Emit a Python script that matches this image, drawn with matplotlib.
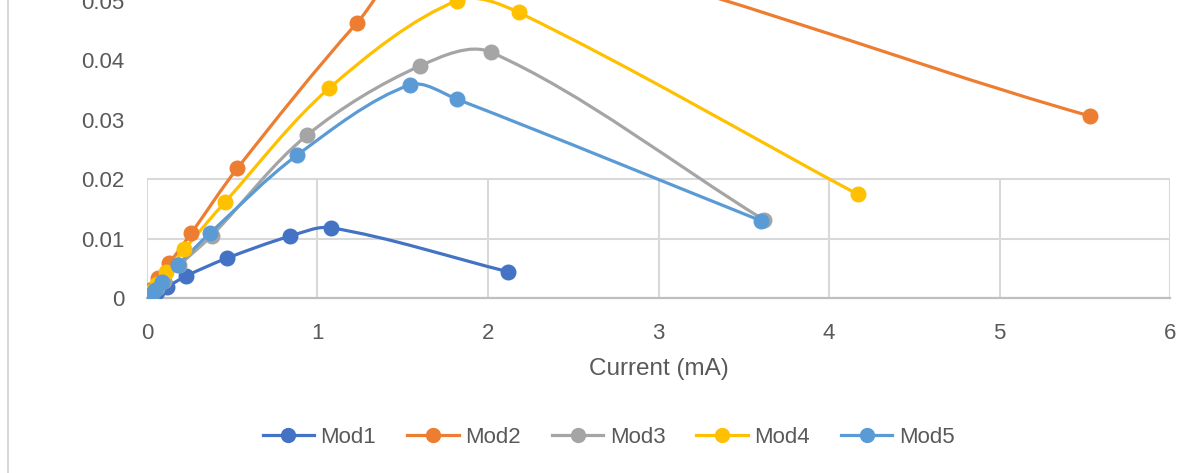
import matplotlib
matplotlib.use('Agg')
import numpy as np
import matplotlib.pyplot as plt
from matplotlib.path import Path
from matplotlib.patches import PathPatch
from matplotlib.lines import Line2D

plt.rcParams['font.family'] = ['Liberation Sans', 'DejaVu Sans']

# ── data ────────────────────────────────────────────────────────────────
series_names = ['Mod1', 'Mod2', 'Mod3', 'Mod4', 'Mod5']
colors = ['#4472C4', '#ED7D31', '#A5A5A5', '#FFC000', '#5B9BD5']

mod1_x = [0, 0.03, 0.06, 0.12, 0.23, 0.47, 0.84, 1.08, 2.12]
mod1_y = [0, 0.0005, 0.0010, 0.0019, 0.0037, 0.0067, 0.0104, 0.0118, 0.0044]

# the Mod2 peak lies above the visible area; estimated from the curve's path
mod2_x = [0, 0.03, 0.064, 0.13, 0.26, 0.53, 1.23, 1.75, 5.53]
mod2_y = [0, 0.0015, 0.0033, 0.0058, 0.0109, 0.0218, 0.0462, 0.0610, 0.0306]

mod3_x = [0, 0.03, 0.06, 0.10, 0.19, 0.38, 0.94, 1.60, 2.02, 3.62]
mod3_y = [0, 0.0008, 0.0017, 0.0028, 0.0055, 0.0105, 0.0274, 0.0390, 0.0413, 0.0131]

mod4_x = [0, 0.03, 0.06, 0.11, 0.22, 0.46, 1.07, 1.82, 2.18, 4.17]
mod4_y = [0, 0.0012, 0.0024, 0.0043, 0.0082, 0.0162, 0.0353, 0.0500, 0.0480, 0.0174]

mod5_x = [0, 0.03, 0.05, 0.09, 0.18, 0.37, 0.88, 1.54, 1.82, 3.60]
mod5_y = [0, 0.0006, 0.0013, 0.0027, 0.0055, 0.0109, 0.0240, 0.0358, 0.0334, 0.0130]

xs = [mod1_x, mod2_x, mod3_x, mod4_x, mod5_x]
ys = [mod1_y, mod2_y, mod3_y, mod4_y, mod5_y]

x_ticks = [0, 1, 2, 3, 4, 5, 6]
y_ticks = [0, 0.01, 0.02, 0.03, 0.04, 0.05]
y_ticklabels = ['0', '0.01', '0.02', '0.03', '0.04', '0.05']

TEXT = '#595959'
GRID = '#D9D9D9'
AXIS = '#BFBFBF'

Y_ASPECT = 35.0   # roughly px-per-unit ratio y/x, so smoothing works in screen-like space


def smooth_path(x, y):
    # chord-length Catmull-Rom as cubic Bezier segments (Excel-like smoothing)
    p = np.column_stack([x, np.asarray(y) * Y_ASPECT])
    n = len(p)
    d = np.hypot(*np.diff(p, axis=0).T)
    tang = np.zeros_like(p)
    tang[0] = (p[1] - p[0]) / d[0]
    tang[-1] = (p[-1] - p[-2]) / d[-1]
    for i in range(1, n - 1):
        tang[i] = (p[i + 1] - p[i - 1]) / (d[i - 1] + d[i])
    verts = [p[0]]
    codes = [Path.MOVETO]
    for i in range(n - 1):
        c1 = p[i] + tang[i] * d[i] / 3
        c2 = p[i + 1] - tang[i + 1] * d[i] / 3
        verts += [c1, c2, p[i + 1]]
        codes += [Path.CURVE4] * 3
    verts = np.array(verts)
    verts[:, 1] /= Y_ASPECT
    return Path(verts, codes)


fig = plt.figure(figsize=(11.91, 4.73), dpi=100, facecolor='white')
ax = fig.add_axes([0.1234, 0.370, 0.859, 0.630])

ax.set_xlim(0, 6)
ax.set_ylim(0, 0.0501)

# partial grid, as in the reference (only the lower band is boxed)
ax.hlines([0.01, 0.02], 0, 6, color=GRID, lw=1.5, zorder=0)
ax.vlines(x_ticks, 0, 0.02, color=GRID, lw=1.5, zorder=0)

for name, c, x, y in zip(series_names, colors, xs, ys):
    ax.add_patch(PathPatch(smooth_path(x, y), facecolor='none', edgecolor=c,
                           lw=2.3, capstyle='round', joinstyle='round', zorder=2))
    ax.plot(x, y, linestyle='none', marker='o', ms=10.5, color=c, zorder=3)

for side in ['left', 'top', 'right']:
    ax.spines[side].set_visible(False)
ax.spines['bottom'].set_color(AXIS)
ax.spines['bottom'].set_linewidth(1.6)
ax.spines['bottom'].set_zorder(1)

ax.set_xticks(x_ticks)
ax.set_yticks(y_ticks)
ax.set_yticklabels(y_ticklabels)
ax.tick_params(axis='x', length=0, pad=18, labelsize=16, labelcolor=TEXT)
ax.tick_params(axis='y', length=0, pad=16, labelsize=16, labelcolor=TEXT)
ax.set_xlabel('Current (mA)', fontsize=17.5, color=TEXT, labelpad=10)

# chart-area border on the left
fig.add_artist(Line2D([0.0066, 0.0066], [0, 1], transform=fig.transFigure,
                      color=GRID, lw=1.5))

handles = [Line2D([], [], color=c, lw=2.3, marker='o', ms=10) for c in colors]
fig.legend(handles, series_names, loc='center', bbox_to_anchor=(0.511, 0.076),
           ncol=5, frameon=False, fontsize=16, labelcolor=TEXT,
           handlelength=2.3, handletextpad=0.3, columnspacing=1.4)

plt.savefig('out.png', dpi=100, facecolor='white')
plt.close()
